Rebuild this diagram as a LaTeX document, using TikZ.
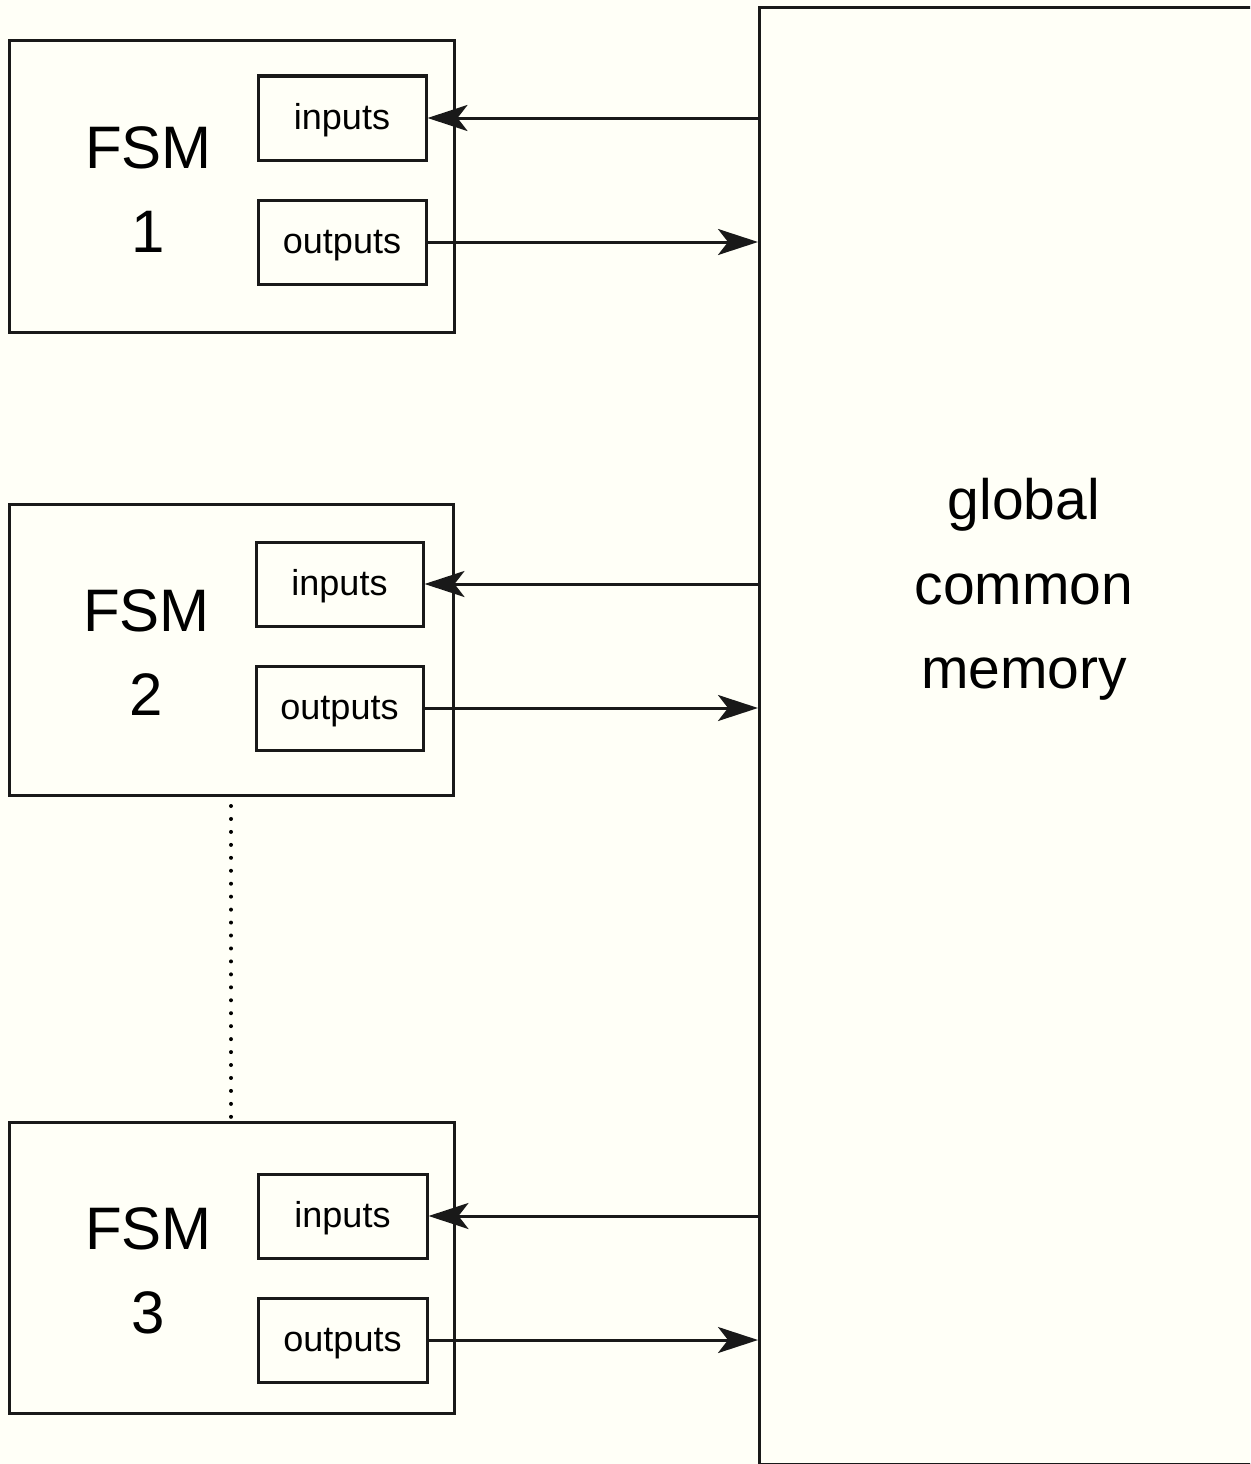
\documentclass[tikz,border=0pt]{standalone}
\usepackage{fontspec}
\setmainfont{Liberation Sans}
\usetikzlibrary{arrows.meta}

\tikzset{
  line/.style={line width=3pt, draw=black!90},
  block/.style={line, rectangle, inner sep=0pt, minimum width=#1},
  fsmbox/.style={block=445pt, minimum height=291pt},
  portbox/.style={block=168pt, minimum height=84pt, text height=30pt, text depth=8pt,
    font=\fontsize{36}{40}\selectfont},
  fsmlabel/.style={font=\fontsize{60}{84}\selectfont, anchor=base, inner sep=0pt},
  memlabel/.style={font=\fontsize{57}{85}\selectfont, anchor=base, inner sep=0pt},
  flow/.style={line, -{Stealth[length=40pt, width=26pt, inset=10pt]}},
  ellipsis/.style={line width=4pt, line cap=round, dash pattern=on 0pt off 12.95pt},
}

\begin{document}
\begin{tikzpicture}[x=1pt, y=-1pt]
  \useasboundingbox (0,0) rectangle (1250,1464);
  \clip (0,0) rectangle (1250,1464);
  \fill[white!97!yellow] (0,0) rectangle (1250,1464);

  % shared memory block (runs off the right edge)
  \node[block=600pt, minimum height=1457pt, anchor=north west] (mem) at (758,6) {};
  \node[memlabel] (memA) at (1024,519) {global};
  \node[memlabel] (memB) at (1024,604) {common};
  \node[memlabel] (memC) at (1024,688) {memory};

  % FSM 1
  \node[fsmbox] (fsm1) at (231.5,186.5) {};
  \node[fsmlabel] (fsm1a) at (148.5,168) {FSM};
  \node[fsmlabel] (fsm1b) at (148.5,252) {1};
  \node[portbox] (in1) at (342,118) {inputs};
  \node[portbox] (out1) at (342,242) {outputs};

  % FSM 2
  \node[fsmbox, minimum width=444pt] (fsm2) at (231,649.5) {};
  \node[fsmlabel] (fsm2a) at (146.5,631) {FSM};
  \node[fsmlabel] (fsm2b) at (146.5,715) {2};
  \node[portbox, minimum width=167pt] (in2) at (339.5,584) {inputs};
  \node[portbox, minimum width=167pt] (out2) at (339.5,708) {outputs};

  % FSM 3
  \node[fsmbox] (fsm3) at (231.5,1267.5) {};
  \node[fsmlabel] (fsm3a) at (148.5,1249) {FSM};
  \node[fsmlabel] (fsm3b) at (148.5,1333) {3};
  \node[portbox, minimum width=169pt] (in3) at (342.5,1216) {inputs};
  \node[portbox, minimum width=169pt] (out3) at (342.5,1340) {outputs};

  % signal paths between the machines and memory
  \draw[flow] (mem.west |- in1.east) -- (in1.east);
  \draw[flow] (out1.east) -- (mem.west |- out1.east);
  \draw[flow] (mem.west |- in2.east) -- (in2.east);
  \draw[flow] (out2.east) -- (mem.west |- out2.east);
  \draw[flow] (mem.west |- in3.east) -- (in3.east);
  \draw[flow] (out3.east) -- (mem.west |- out3.east);

  % further machines omitted
  \coordinate (gapA) at (231,806);
  \coordinate (gapB) at (231,1118);
  \draw[ellipsis] (gapA) -- (gapB);
\end{tikzpicture}
\end{document}
